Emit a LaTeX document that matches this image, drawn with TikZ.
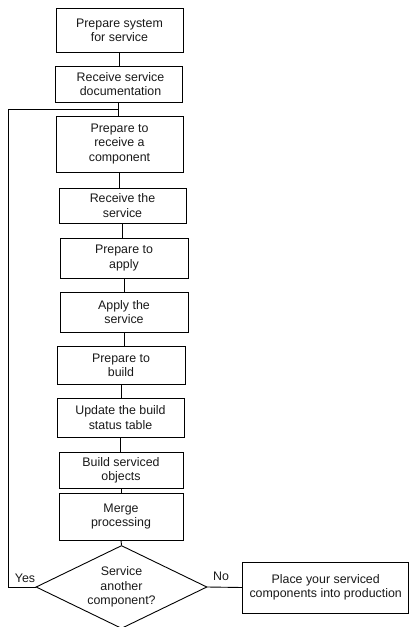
\documentclass[tikz,border=0pt]{standalone}
\usepackage{fontspec}
\setmainfont{Liberation Sans}
\usetikzlibrary{shapes.geometric}
\begin{document}
\begin{tikzpicture}[x=1pt,y=-1pt,
  every node/.style={font=\fontsize{12.4}{14.3}\selectfont, text=black!90},
  box/.style={draw, line width=0.9pt, align=center, inner sep=0pt},
  conn/.style={draw, line width=0.9pt},
  lbl/.style={inner sep=0pt}]
\useasboundingbox (0,0) rectangle (409,627);
\node[box, minimum width=127pt, minimum height=44pt] (b1) at (119.5,30) {Prepare system\\for service};
\node[box, minimum width=127pt, minimum height=36pt] (b2) at (118.5,84) {\hspace*{4pt}Receive service\\\hspace*{4pt}documentation};
\node[box, minimum width=127pt, minimum height=56pt] (b3) at (119.5,144) {Prepare to\\receive a\\component};
\node[box, minimum width=127pt, minimum height=35pt] (b4) at (122.5,205.5) {Receive the\\service};
\node[box, minimum width=128pt, minimum height=40pt] (b5) at (124,258) {Prepare to\\apply};
\node[box, minimum width=128pt, minimum height=40pt] (b6) at (124,312) {Apply the\\service};
\node[box, minimum width=128pt, minimum height=38pt] (b7) at (121,365) {Prepare to\\build};
\node[box, minimum width=127pt, minimum height=39pt] (b8) at (120.5,417.5) {Update the build\\status table};
\node[box, minimum width=124pt, minimum height=36pt] (b9) at (121,470) {Build serviced\\objects};
\node[box, minimum width=124pt, minimum height=47pt] (b10) at (121,516.5) {Merge\\processing};
\node[draw, line width=0.9pt, diamond, inner sep=0pt, minimum width=171pt, minimum height=83pt] (dia) at (121.5,587) {};
\node[lbl, align=center] (dtext) at (dia.center) {Service\\another\\component?};
\node[box, minimum width=166pt, minimum height=51pt] (prod) at (325.7,587.5) {Place your serviced\\components into production};
\node[lbl] (yes) at (25,578) {Yes};
\node[lbl] (no) at (221,576) {No};
\coordinate (lp) at (8,109);

\draw[conn] (b1.south) -- (b1.south |- b2.north);
\draw[conn] (b2.south) -- (b2.south |- b3.north);
\draw[conn] (b3.south) -- (b3.south |- b4.north);
\draw[conn] (b4.south) -- (b4.south |- b5.north);
\draw[conn] (b5.south) -- (b5.south |- b6.north);
\draw[conn] (b6.south) -- (b6.south |- b7.north);
\draw[conn] (b7.south) -- (b7.south |- b8.north);
\draw[conn] (b8.south) -- (b8.south |- b9.north);
\draw[conn] (b9.south) -- (b9.south |- b10.north);
\draw[conn] (b10.south) -- (dia.north);
\draw[conn] (dia.east) -- (prod.west);
\draw[conn] (dia.west) -- (dia.west -| lp) -- (lp) -- (lp -| b2.south);
\end{tikzpicture}
\end{document}
